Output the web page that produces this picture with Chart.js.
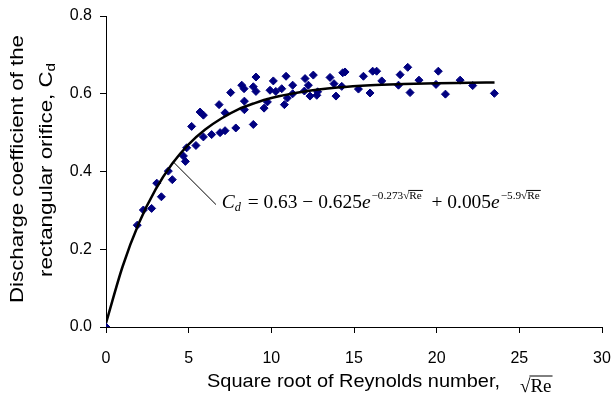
<!DOCTYPE html>
<html>
<head>
<meta charset="utf-8">
<script src="https://cdn.jsdelivr.net/npm/chart.js"></script>
<style>
  body { margin: 0; background: #fff; }
</style>
</head>
<body>
<canvas id="cdChart" width="612" height="408"></canvas>
<script>
// measured points: square root of Re and discharge coefficient
var sqrtRe = [0, 1.89, 2.26, 2.76, 3.07, 3.35, 3.77, 4.01, 4.68, 4.80, 4.88, 5.18, 5.44, 5.69, 5.89, 5.89,
  6.39, 6.84, 6.90, 7.20, 7.20, 7.54, 7.85, 8.21, 8.35, 8.37, 8.37, 8.91, 8.91, 9.07, 9.07, 9.56, 9.76,
  9.92, 10.12, 10.27, 10.63, 10.79, 10.89, 10.97, 11.29, 11.29, 12.00, 12.04, 12.24, 12.34, 12.54, 12.75,
  12.80, 13.55, 13.79, 13.91, 14.26, 14.32, 14.46, 15.27, 15.57, 15.97, 16.13, 16.37, 16.68, 17.69, 17.79,
  18.25, 18.39, 18.93, 19.96, 20.10, 20.53, 21.42, 22.18, 23.49];
var cdMeasured = [0, 0.262, 0.301, 0.305, 0.370, 0.335, 0.401, 0.379, 0.440, 0.426, 0.461, 0.516, 0.467, 0.553, 0.489, 0.545,
  0.495, 0.572, 0.500, 0.505, 0.551, 0.603, 0.512, 0.622, 0.613, 0.581, 0.559, 0.521, 0.618, 0.606, 0.643, 0.563, 0.579,
  0.609, 0.633, 0.606, 0.613, 0.572, 0.645, 0.589, 0.622, 0.600, 0.607, 0.639, 0.622, 0.594, 0.648, 0.596,
  0.605, 0.642, 0.626, 0.594, 0.619, 0.654, 0.656, 0.612, 0.645, 0.602, 0.658, 0.658, 0.633, 0.622, 0.649,
  0.668, 0.603, 0.635, 0.624, 0.658, 0.599, 0.635, 0.621, 0.601];

// fitted curve
var fitX = [0, 1, 2, 3, 4, 5, 6, 7, 8, 9, 10, 12, 14, 16, 18, 20, 22, 23.5];
var fitCd = [0.01, 0.155, 0.268, 0.354, 0.420, 0.470, 0.508, 0.537, 0.560, 0.576, 0.589, 0.606, 0.616, 0.622, 0.625, 0.627, 0.628, 0.629];

var xTicks = [0, 5, 10, 15, 20, 25, 30];
var yTicks = [0, 0.2, 0.4, 0.6, 0.8];

var pts = sqrtRe.map(function (x, i) { return { x: x, y: cdMeasured[i] }; });
var fit = fitX.map(function (x, i) { return { x: x, y: fitCd[i] }; });

var SANS = '"Liberation Sans", Arial, sans-serif';
var SERIF = '"Liberation Serif", "Times New Roman", serif';

// draws a list of text pieces, returns end x
function runs(ctx, x, y, list, measureOnly) {
  list.forEach(function (r) {
    ctx.font = r.font;
    var w = ctx.measureText(r.t).width;
    if (!measureOnly) {
      ctx.fillText(r.t, x, y + (r.dy || 0));
      if (r.over) {
        ctx.beginPath();
        ctx.lineWidth = r.ow || 1;
        var oy = y + (r.dy || 0) - r.over;
        ctx.moveTo(x - 1, oy);
        ctx.lineTo(x + w + 1, oy);
        ctx.stroke();
      }
    }
    x += w + (r.gap || 0);
  });
  return x;
}

function stretched(ctx, x, y, list, target) {
  var w = runs(ctx, 0, 0, list, true);
  ctx.save();
  ctx.translate(x, y);
  ctx.scale(target / w, 1);
  runs(ctx, 0, 0, list, false);
  ctx.restore();
}

var extras = {
  id: 'extras',
  afterDatasetsDraw: function (chart) {
    var ctx = chart.ctx, xs = chart.scales.x, ys = chart.scales.y;
    ctx.save();
    ctx.strokeStyle = '#000';
    ctx.fillStyle = '#000';
    // leader line
    ctx.lineWidth = 1;
    ctx.beginPath();
    ctx.moveTo(xs.getPixelForValue(4.11), ys.getPixelForValue(0.423));
    ctx.lineTo(xs.getPixelForValue(6.65), ys.getPixelForValue(0.315));
    ctx.stroke();
    // equation
    ctx.textBaseline = 'alphabetic';
    var big = '19px ' + SERIF, bigI = 'italic 19px ' + SERIF;
    var sm = '11px ' + SERIF, smI = 'italic 12px ' + SERIF;
    var eq = [
      { t: 'C', font: bigI },
      { t: 'd', font: smI, dy: 3, gap: 2 },
      { t: ' = 0.63 \u2212 0.625', font: big },
      { t: 'e', font: bigI, gap: 1 },
      { t: '\u22120.273', font: sm, dy: -9 },
      { t: '\u221A', font: sm, dy: -9 },
      { t: 'Re', font: sm, dy: -9, over: 9 },
      { t: '  + 0.005', font: big },
      { t: 'e', font: bigI, gap: 1 },
      { t: '\u22125.9', font: sm, dy: -9 },
      { t: '\u221A', font: sm, dy: -9 },
      { t: 'Re', font: sm, dy: -9, over: 9 }
    ];
    stretched(ctx, xs.getPixelForValue(7.0), ys.getPixelForValue(0.305), eq, 318);
    ctx.restore();
  },
  afterDraw: function (chart) {
    var ctx = chart.ctx;
    ctx.save();
    ctx.fillStyle = '#000';
    ctx.strokeStyle = '#000';
    ctx.textBaseline = 'middle';
    // x title
    stretched(ctx, 207, 382, [{ t: 'Square root of Reynolds number,', font: '19px ' + SANS }], 293);
    ctx.textBaseline = 'alphabetic';
    runs(ctx, 520, 392, [
      { t: '\u221A', font: '19px ' + SERIF },
      { t: 'Re', font: '19px ' + SERIF, over: 16 }
    ]);
    // y title, two rotated lines
    ctx.textBaseline = 'middle';
    function vline(cx, cy, list, len) {
      ctx.save();
      ctx.translate(cx, cy);
      ctx.rotate(-Math.PI / 2);
      stretched(ctx, -len / 2, 0, list, len);
      ctx.restore();
    }
    vline(18, 169, [{ t: 'Discharge coefficient of the', font: '19px ' + SANS }], 268);
    vline(47, 170, [
      { t: 'rectangular orifice, C', font: '19px ' + SANS },
      { t: 'd', font: '13px ' + SANS, dy: 4 }
    ], 214);
    ctx.restore();
  }
};

var axisGrid = { display: true, drawOnChartArea: false, drawTicks: true, tickLength: 6, color: '#000', lineWidth: 1 };

new Chart(document.getElementById('cdChart'), {
  type: 'scatter',
  data: {
    datasets: [
      {
        label: 'fit',
        data: fit,
        showLine: true,
        borderColor: '#000',
        borderWidth: 2.5,
        pointRadius: 0,
        cubicInterpolationMode: 'monotone'
      },
      {
        label: 'measured',
        data: pts,
        pointStyle: 'rectRot',
        pointRadius: 4,
        backgroundColor: '#000080',
        borderColor: '#000080',
        borderWidth: 1
      }
    ]
  },
  options: {
    responsive: false,
    animation: false,
    layout: { padding: { top: 16, right: 0, left: 0, bottom: 0 } },
    plugins: { legend: { display: false }, tooltip: { enabled: false } },
    scales: {
      x: {
        type: 'linear', min: 0, max: 30,
        afterBuildTicks: function (s) { s.ticks = xTicks.map(function (v) { return { value: v }; }); },
        afterFit: function (s) { s.height = 81; s.paddingRight = 10; s.paddingLeft = 0; },
        grid: axisGrid,
        border: { display: true, color: '#000', width: 1 },
        ticks: { color: '#000', padding: 16, maxRotation: 0, font: { family: SANS, size: 16 } }
      },
      y: {
        type: 'linear', min: 0, max: 0.8,
        afterBuildTicks: function (s) { s.ticks = yTicks.map(function (v) { return { value: v }; }); },
        afterFit: function (s) { s.width = 106; s.paddingTop = 0; s.paddingBottom = 0; },
        grid: axisGrid,
        border: { display: true, color: '#000', width: 1 },
        ticks: {
          color: '#000', padding: 8, font: { family: SANS, size: 16 },
          callback: function (v) { return v.toFixed(1); }
        }
      }
    }
  },
  plugins: [extras]
});
</script>
</body>
</html>
